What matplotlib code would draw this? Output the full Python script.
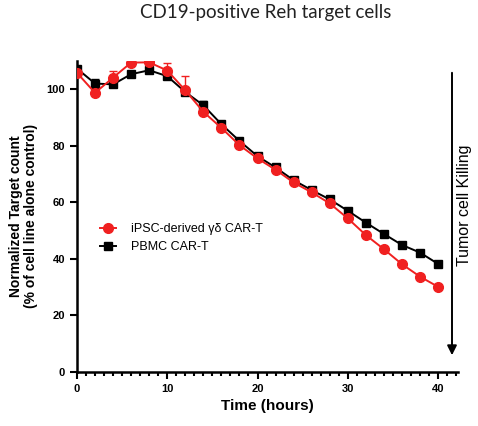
import numpy as np
import matplotlib.pyplot as plt
from matplotlib.lines import Line2D

# Datos
tiempo = np.arange(0, 41, 2)
ipsc = [105.8, 98.7, 104.1, 109.4, 109.5, 106.6, 99.6, 92.0, 86.3, 80.2, 75.5,
        71.5, 67.0, 63.5, 59.6, 54.3, 48.4, 43.4, 38.1, 33.7, 30.1]
ipsc_err = [0.5, 0.5, 2.4, 0.5, 0.5, 2.7, 5.0, 0.6, 0.5, 0.5, 0.4,
            0.4, 0.4, 0.4, 0.4, 0.4, 0.4, 0.4, 0.4, 0.4, 0.4]
pbmc = [107.3, 102.0, 101.7, 105.3, 106.7, 104.6, 99.0, 94.3, 87.6, 81.7, 76.3,
        72.3, 67.8, 64.3, 61.0, 57.0, 52.8, 48.8, 44.9, 42.2, 38.2]
pbmc_err = [0.8, 1.5, 0.5, 0.5, 0.5, 0.6, 0.6, 1.5, 0.8, 0.6, 0.5,
            0.5, 0.5, 0.5, 0.5, 0.5, 0.4, 0.4, 0.4, 0.4, 0.4]

etiquetas = ['iPSC-derived γδ CAR-T', 'PBMC CAR-T']
xticks = [0, 10, 20, 30, 40]
yticks = [0, 20, 40, 60, 80, 100]

rojo = '#f02020'
plt.rcParams['font.family'] = ['Liberation Sans', 'DejaVu Sans']

fig = plt.figure(figsize=(4.78, 4.26), dpi=100)
ax = fig.add_axes([0.161, 0.127, 0.797, 0.73])

# Serie PBMC (negra) debajo, iPSC (roja) encima
ax.errorbar(tiempo, pbmc, yerr=[np.zeros(len(pbmc)), pbmc_err], color='black',
            marker='s', markersize=6, linewidth=1.4, capsize=3, elinewidth=1,
            zorder=3)
ax.errorbar(tiempo, ipsc, yerr=[np.zeros(len(ipsc)), ipsc_err], color=rojo,
            marker='o', markersize=7, linewidth=1.4, capsize=3, elinewidth=1,
            zorder=4)

ax.set_xlim(0, 42.2)
ax.set_ylim(0, 110)
ax.set_xticks(xticks)
ax.set_xticks(np.arange(0, 43, 1), minor=True)
ax.set_yticks(yticks)
ax.spines['top'].set_visible(False)
ax.spines['right'].set_visible(False)
ax.spines['left'].set_linewidth(1.8)
ax.spines['bottom'].set_linewidth(1.8)
ax.tick_params(axis='both', which='major', width=1.5, length=5, labelsize=8)
ax.tick_params(axis='x', which='minor', width=1.5, length=3)
for lab in ax.get_xticklabels() + ax.get_yticklabels():
    lab.set_fontweight('bold')

ax.set_xlabel('Time (hours)', fontsize=11, fontweight='bold', labelpad=4)
ax.set_ylabel('Normalized Target count\n(% of cell line alone control)',
              fontsize=10, fontweight='bold', labelpad=6, linespacing=1.1)

# Leyenda sin barras de error
handles = [Line2D([], [], color=rojo, marker='o', markersize=7, linewidth=1.4),
           Line2D([], [], color='black', marker='s', markersize=6, linewidth=1.4)]
ax.legend(handles, etiquetas, loc='center left', bbox_to_anchor=(0.03, 0.43),
          frameon=False, fontsize=9, handlelength=1.3, handletextpad=1.2,
          labelspacing=0.5)

# Título
fig.text(0.556, 0.97, 'CD19-positive Reh target cells', ha='center', va='center',
         fontsize=13.5, family=['Lato', 'DejaVu Sans'], color='#222222')

# Flecha de "Tumor cell Killing"
fig.add_artist(plt.Annotation('', xy=(452 / 478, 1 - 358 / 426), xytext=(452 / 478, 1 - 70 / 426),
                              xycoords='figure fraction', textcoords='figure fraction',
                              arrowprops=dict(arrowstyle='-|>', color='black', lw=1.4,
                                              mutation_scale=14)))
fig.text(465 / 478, 1 - 205 / 426, 'Tumor cell Killing', rotation=90, ha='center',
         va='center', fontsize=11.5)

plt.savefig('out.png', dpi=100)
